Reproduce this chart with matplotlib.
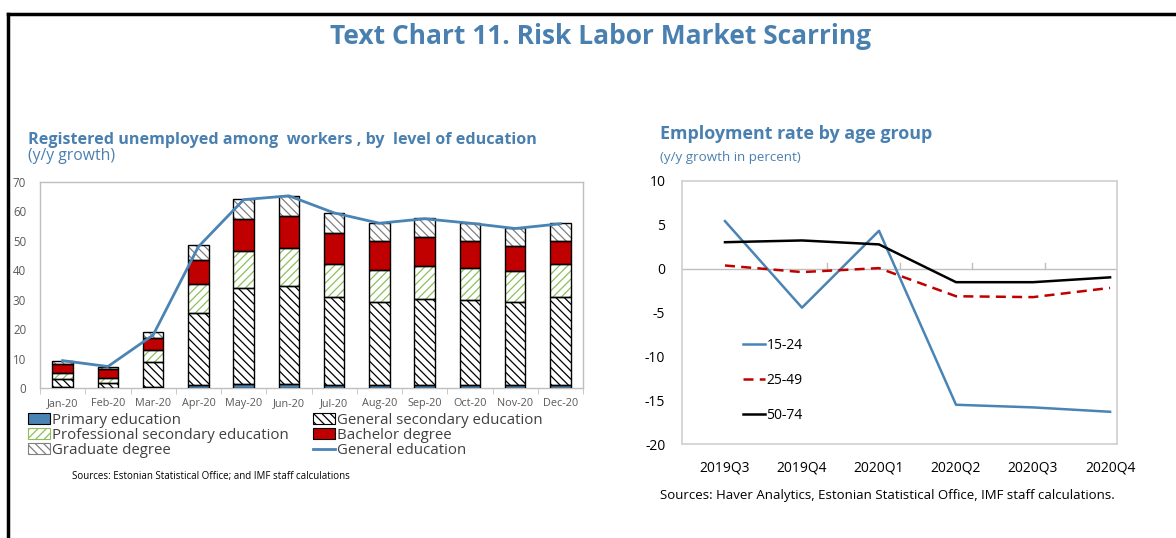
import matplotlib
matplotlib.use("Agg")
import matplotlib.pyplot as plt
import numpy as np
from matplotlib.patches import Patch
from matplotlib.lines import Line2D

# ---------------- data ----------------
months = ["Jan-20", "Feb-20", "Mar-20", "Apr-20", "May-20", "Jun-20",
          "Jul-20", "Aug-20", "Sep-20", "Oct-20", "Nov-20", "Dec-20"]
primary = [0.2, 0.1, 0.4, 0.9, 1.4, 1.4, 1.0, 1.0, 1.0, 1.0, 1.0, 1.0]
gen_secondary = [3.0, 1.6, 8.6, 24.7, 32.7, 33.3, 30.0, 28.2, 29.3, 28.9, 28.2, 30.0]
prof_secondary = [1.8, 1.8, 3.8, 9.8, 12.5, 12.9, 11.3, 10.9, 11.2, 10.8, 10.7, 11.0]
bachelor = [3.2, 3.0, 4.1, 8.1, 10.8, 10.9, 10.4, 9.8, 9.7, 9.1, 8.3, 8.0]
graduate = [1.1, 0.6, 2.1, 5.1, 6.8, 6.8, 6.7, 6.2, 6.4, 6.4, 6.0, 5.9]
general_edu = [9.3, 7.3, 18.0, 48.0, 64.0, 65.3, 59.5, 56.0, 57.5, 56.0, 54.2, 55.8]

quarters = ["2019Q3", "2019Q4", "2020Q1", "2020Q2", "2020Q3", "2020Q4"]
age_15_24 = [5.4, -4.45, 4.3, -15.5, -15.8, -16.3]
age_25_49 = [0.35, -0.4, 0.05, -3.15, -3.25, -2.2]
age_50_74 = [3.0, 3.2, 2.75, -1.55, -1.55, -1.0]

# ---------------- style ----------------
plt.rcParams['font.family'] = ['Open Sans', 'DejaVu Sans']
plt.rcParams['axes.unicode_minus'] = False
BLUE = '#4A84B5'
TITLE_BLUE = '#4A80B0'
GRAY_AX = '#BFBFBF'
plt.rcParams['hatch.linewidth'] = 0.9

fig = plt.figure(figsize=(11.76, 5.38), dpi=100)

# frame lines (top and left)
fig.add_artist(Line2D([8/1176, 1.0], [1 - 14/538, 1 - 14/538], color='black', lw=2.5,
                      transform=fig.transFigure))
fig.add_artist(Line2D([8/1176, 8/1176], [0, 1 - 14/538], color='black', lw=2.5,
                      transform=fig.transFigure))

fig.text(600/1176, 1 - 37/538, "Text Chart 11. Risk Labor Market Scarring",
         ha='center', va='center', fontsize=19, fontweight='bold', color=TITLE_BLUE)

# ---------------- left chart ----------------
axL = fig.add_axes([40/1176, 1 - 388/538, 543/1176, 206/538])
x = np.arange(len(months))
w = 0.45
layers = [
    ("Primary education", primary, BLUE, None, BLUE),
    ("General secondary education", gen_secondary, 'white', '\\\\\\\\', 'black'),
    ("Professional secondary education", prof_secondary, 'white', '////', '#8DBF5A'),
    ("Bachelor degree", bachelor, '#C00000', None, '#C00000'),
    ("Graduate degree", graduate, 'white', '\\\\\\\\', '#808080'),
]
bottom = np.zeros(len(months))
handles = {}
for name, vals, fc, hatch, hc in layers:
    vals = np.array(vals)
    if hatch:
        axL.bar(x, vals, w, bottom=bottom, color=fc, edgecolor=hc, hatch=hatch, lw=0, zorder=2)
    else:
        axL.bar(x, vals, w, bottom=bottom, color=fc, lw=0, zorder=2)
    axL.bar(x, vals, w, bottom=bottom, facecolor='none', edgecolor='black', lw=1.0, zorder=3)
    handles[name] = Patch(facecolor=fc, edgecolor=hc if hatch else 'black', hatch=hatch, lw=0.8)
    bottom = bottom + vals
axL.plot(x, general_edu, color=BLUE, lw=2, zorder=4)
handles["General education"] = Line2D([], [], color=BLUE, lw=2)

axL.set_xlim(-0.5, len(months) - 0.5)
axL.set_ylim(0, 70)
axL.set_yticks(range(0, 71, 10))
axL.set_xticks(x)
axL.set_xticklabels(months)
axL.set_xticks(np.arange(-0.5, len(months), 1), minor=True)
axL.tick_params(axis='x', which='major', length=0, labelsize=7.8, colors='#595959', pad=7)
axL.tick_params(axis='x', which='minor', length=4, color=GRAY_AX, direction='out')
axL.tick_params(axis='y', length=0, labelsize=8.3, colors='#595959', pad=10)
for s in axL.spines.values():
    s.set_color(GRAY_AX)
    s.set_linewidth(1)

order = ["Primary education", "Professional secondary education", "Graduate degree",
         "General secondary education", "Bachelor degree", "General education"]
leg = fig.legend([handles[k] for k in order], order, ncol=2,
                 loc='upper left', bbox_to_anchor=(28/1176, 1 - 413/538),
                 frameon=False, fontsize=10.8, handlelength=1.45, handleheight=0.75,
                 handletextpad=0.15, labelspacing=0.0, columnspacing=1.6,
                 borderaxespad=0, borderpad=0)
for t in leg.get_texts():
    t.set_color('#404040')

fig.text(28/1176, 1 - 140/538, "Registered unemployed among  workers , by  level of education",
         ha='left', va='center', fontsize=11.6, fontweight='bold', color=TITLE_BLUE)
fig.text(28/1176, 1 - 156/538, "(y/y growth)", ha='left', va='center',
         fontsize=11.3, color=TITLE_BLUE)
fig.text(72/1176, 1 - 476/538, "Sources: Estonian Statistical Office; and IMF staff calculations",
         ha='left', va='center', fontsize=7, color='black')

# ---------------- right chart ----------------
axR = fig.add_axes([682/1176, 1 - 444.3/538, 435/1176, 263.6/538])
xq = np.arange(len(quarters))
x0, x1 = -0.558, len(quarters) - 1 + 0.09
axR.axhline(0, color=GRAY_AX, lw=1, zorder=1)
nb = len(quarters)
for k in range(2, nb):
    b = x0 + (x1 - x0) * k / nb
    axR.plot([b, b], [0, 0.6], color=GRAY_AX, lw=1, zorder=1)
axR.plot(xq, age_15_24, color=BLUE, lw=1.8, label='15-24', zorder=3)
axR.plot(xq, age_25_49, color='#C00000', lw=1.8, ls=(0, (4, 2.5)), label='25-49', zorder=3)
axR.plot(xq, age_50_74, color='black', lw=1.8, label='50-74', zorder=3)
axR.set_xlim(x0, x1)
axR.set_ylim(-20, 10)
axR.set_yticks(range(-20, 11, 5))
axR.set_xticks(xq)
axR.set_xticklabels(quarters)
axR.tick_params(axis='both', length=0, labelsize=10, colors='black')
axR.tick_params(axis='x', pad=12)
axR.tick_params(axis='y', pad=12)
for s in axR.spines.values():
    s.set_color('#D0D0D0')
    s.set_linewidth(1.2)
legR = axR.legend(loc='upper left', bbox_to_anchor=(0.14, 0.405), frameon=False,
                  fontsize=10, handlelength=1.6, handletextpad=0.1, labelspacing=1.45,
                  borderaxespad=0, borderpad=0)

fig.text(660/1176, 1 - 134/538, "Employment rate by age group", ha='left', va='center',
         fontsize=12.9, fontweight='bold', color=TITLE_BLUE)
fig.text(660/1176, 1 - 157/538, "(y/y growth in percent)", ha='left', va='center',
         fontsize=9.6, color=TITLE_BLUE)
fig.text(660/1176, 1 - 495/538,
         "Sources: Haver Analytics, Estonian Statistical Office, IMF staff calculations.",
         ha='left', va='center', fontsize=9.5, color='black')

fig.savefig("out.png", dpi=100)
